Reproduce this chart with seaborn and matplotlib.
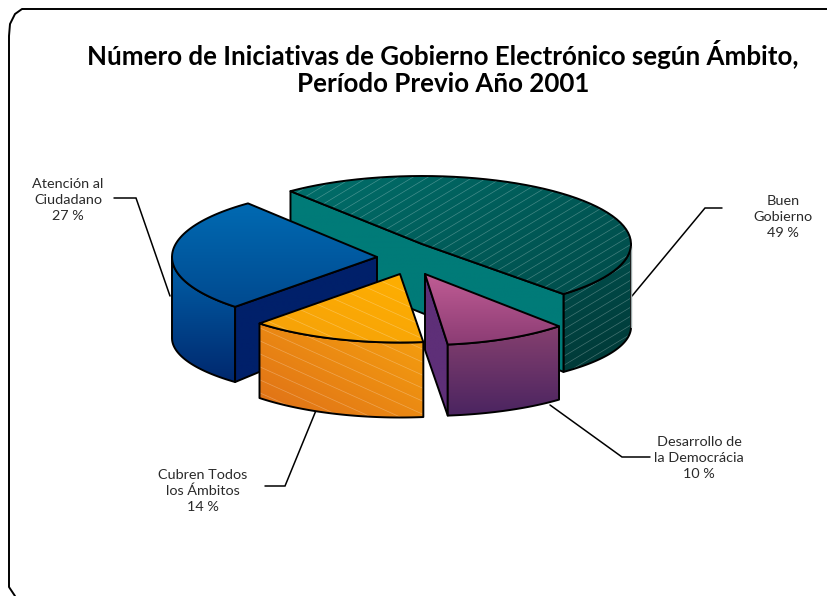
import numpy as np
import matplotlib
matplotlib.use("Agg")
import matplotlib.pyplot as plt
from matplotlib.patches import Polygon
from matplotlib.colors import to_rgb
import seaborn as sns

sns.set_theme(style="white")
plt.rcParams['font.family'] = ['Lato', 'DejaVu Sans']

# ---- data ----
categories = ["Buen\nGobierno", "Desarrollo de\nla Democrácia", "Cubren Todos\nlos Ámbitos", "Atención al\nCiudadano"]
values = [49, 10, 14, 27]
title = "Número de Iniciativas de Gobierno Electrónico según Ámbito,\nPeríodo Previo Año 2001"

# ---- palette: top start, top end, wall start, wall end, cut face ----
teal = sns.color_palette(["#006f6b", "#004b49", "#00514f", "#003735", "#007b78"])
purple = sns.color_palette(["#c05c94", "#8b3c74", "#86406f", "#4a2460", "#5e2f78"])
orange = sns.color_palette(["#ffb000", "#f5a00a", "#f6a20e", "#df6f18", "#f5a00a"])
blue = sns.color_palette(["#006ab2", "#004a90", "#0062aa", "#00286e", "#00206a"])

# ---- projection of each slice: apex x, apex y, rx, ry, bottom-centre drop, bottom ry, cut-face drop ----
proj = [
    (422, 244, 209, 68, 83, 61, 69),
    (425, 274, 198, 71, 80, 62, 76),
    (400, 274, 203, 68.5, 73.5, 70, 70),
    (377, 257, 205, 69, 81, 61, 66),
]
start_angle = 129.0

fig = plt.figure(figsize=(8.28, 5.96), dpi=100, facecolor="white")
ax = fig.add_axes([0, 0, 1, 1])
ax.set_xlim(0, 828)
ax.set_ylim(596, 0)
ax.axis("off")

LW = 1.4
z = [2]


def nextz():
    z[0] += 1
    return z[0]


def arc(cx, cy, rx, ry, a0, a1, n=60):
    t = np.radians(np.linspace(a0, a1, n))
    return np.column_stack([cx + rx * np.cos(t), cy - ry * np.sin(t)])


def fill(pts, c0, c1, direction=(0, 1), hatch=None, ec="black", lw=LW):
    pts = np.asarray(pts)
    x0, y0 = pts.min(axis=0)
    x1, y1 = pts.max(axis=0)
    zi = nextz()
    patch = Polygon(pts, closed=True, fc="none", ec=ec, lw=lw, joinstyle="round")
    ax.add_patch(patch)
    patch.set_zorder(zi + 0.5)
    xx, yy = np.meshgrid(np.linspace(x0, x1, 120), np.linspace(y0, y1, 120))
    d = np.array(direction, float)
    s = (xx - x0) * d[0] + (yy - y0) * d[1]
    s = (s - s.min()) / (s.max() - s.min() + 1e-9)
    a, b = np.array(to_rgb(c0)), np.array(to_rgb(c1))
    img = a[None, None, :] * (1 - s[..., None]) + b[None, None, :] * s[..., None]
    im = ax.imshow(img, extent=(x0, x1, y1, y0), aspect="auto", interpolation="bilinear", zorder=zi)
    im.set_clip_path(patch)
    if hatch:
        slope, gap = hatch
        w = x1 - x0
        c = np.arange(y0 - abs(slope) * w - gap, y1 + abs(slope) * w + gap, gap)
        for ci in c:
            ln, = ax.plot([x0, x1], [ci, ci + slope * w], color="white", lw=0.5, alpha=0.27, zorder=zi + 0.2)
            ln.set_clip_path(patch)
    return patch


bounds = start_angle - 360.0 * np.cumsum([0] + values) / np.sum(values)


def slice_parts(i):
    cx, cy, rx, ry, drop, ry2, fdrop = proj[i]
    a0, a1 = bounds[i], bounds[i + 1]
    return cx, cy, rx, ry, drop, ry2, fdrop, a0, a1


# ---- teal: Buen Gobierno ----
cx, cy, rx, ry, drop, ry2, fdrop, a0, a1 = slice_parts(0)
wall = np.vstack([arc(cx, cy, rx, ry, a1, 0), arc(cx, cy + drop, rx, ry2, 0, a1)])
fill(wall, teal[2], teal[3], (0.3, 1), hatch=(-0.6, 9))
ax.plot([cx + rx, cx + rx], [cy + 2, cy + drop], color="#9aa8a8", lw=1.0, zorder=nextz())
top = np.vstack([[[cx, cy]], arc(cx, cy, rx, ry, a0, a1)])
s = arc(cx, cy, rx, ry, a0, a0, 1)[0]
e = arc(cx, cy, rx, ry, a1, a1, 1)[0]
eb = arc(cx, cy + drop, rx, ry2, a1, a1, 1)[0]
face = [s, [cx, cy], e, eb, [cx, cy + fdrop], [s[0], s[1] + fdrop]]
fill(face, teal[4], teal[4])
fill(top, teal[0], teal[1], (0.6, 1), hatch=(-0.6, 9))

# ---- blue: Atención al Ciudadano ----
cx, cy, rx, ry, drop, ry2, fdrop, a0, a1 = slice_parts(3)
wall = np.vstack([arc(cx, cy, rx, ry, a0, -180), arc(cx, cy + drop, rx, ry2, -180, a0)])
fill(wall, blue[2], blue[3], (0, 1))
s = arc(cx, cy, rx, ry, a0, a0, 1)[0]
sb = arc(cx, cy + drop, rx, ry2, a0, a0, 1)[0]
fill([s, [cx, cy], [cx, cy + fdrop], sb], blue[4], blue[4])
top = np.vstack([[[cx, cy]], arc(cx, cy, rx, ry, a0, a1)])
fill(top, blue[0], blue[1], (0, 1))

# ---- purple: Desarrollo de la Democrácia ----
cx, cy, rx, ry, drop, ry2, fdrop, a0, a1 = slice_parts(1)
e = arc(cx, cy, rx, ry, a1, a1, 1)[0]
eb = arc(cx, cy + drop, rx, ry2, a1, a1, 1)[0]
fill([[cx, cy], e, eb, [cx, cy + fdrop]], purple[4], purple[4])
wall = np.vstack([arc(cx, cy, rx, ry, a0, a1), arc(cx, cy + drop, rx, ry2, a1, a0)])
fill(wall, purple[2], purple[3], (0, 1))
top = np.vstack([[[cx, cy]], arc(cx, cy, rx, ry, a0, a1)])
fill(top, purple[0], purple[1], (0, 1))

# ---- orange: Cubren Todos ----
cx, cy, rx, ry, drop, ry2, fdrop, a0, a1 = slice_parts(2)
wall = np.vstack([arc(cx, cy, rx, ry, a0, a1), arc(cx, cy + drop, rx, ry2, a1, a0)])
fill(wall, orange[2], orange[3], (-0.6, 1), hatch=(0.45, 13))
top = np.vstack([[[cx, cy]], arc(cx, cy, rx, ry, a0, a1)])
fill(top, orange[0], orange[1], (-0.3, 1), hatch=(0.45, 13))

# ---- leader lines ----
leaders = [
    ([722, 705, 632], [208, 208, 296]),
    ([650, 622, 550], [457, 457, 405]),
    ([265, 285, 317], [486, 486, 408]),
    ([114, 136, 170], [198, 198, 296]),
]
for lx, ly in leaders:
    ax.plot(lx, ly, color="black", lw=1.1, zorder=1, solid_joinstyle="miter")

# ---- labels ----
label_pos = [(783, 217), (699, 458), (203, 491), (68, 200)]
for name, val, (x, y) in zip(categories, values, label_pos):
    ax.text(x, y, f"{name}\n{val} %", ha="center", va="center", fontsize=10.4,
            color="#2a2a2a", linespacing=1.4, fontweight="normal")

# ---- title ----
ax.text(443, 68, title, ha="center", va="center", fontsize=18.6, fontweight="bold",
        color="black", linespacing=1.15)

# ---- frame ----
fx = [828, 22, 15, 10, 9, 9, 15]
fy = [9, 9, 14, 24, 36, 587, 596]
ax.plot(fx, fy, color="black", lw=1.4, zorder=1, solid_joinstyle="round")

ax.set_xlim(0, 828)
ax.set_ylim(596, 0)
fig.savefig("out.png", dpi=100, facecolor="white")
